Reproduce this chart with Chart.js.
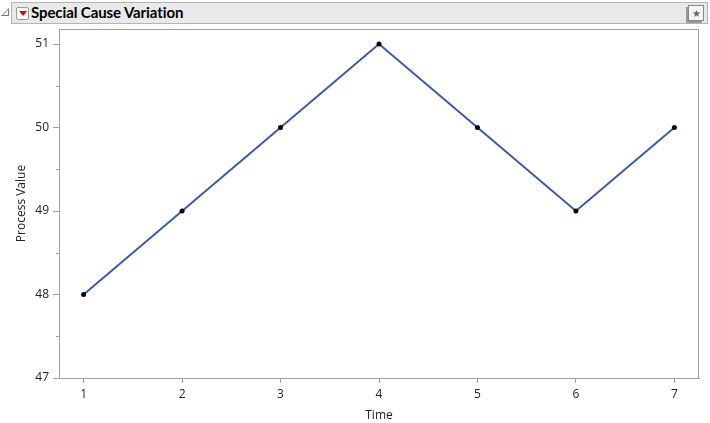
<!DOCTYPE html>
<html>
<head>
<meta charset="UTF-8">
<title>Special Cause Variation</title>
<script src="https://cdn.jsdelivr.net/npm/chart.js"></script>
<style>
  body { margin: 0; background: #fff; width: 710px; height: 423px; overflow: hidden; position: relative; font-family: "Open Sans", sans-serif; }
  #bar { position: absolute; left: 11px; top: 2px; width: 697px; height: 22px; background: #e9e9e9; border: 1px solid #b4b4b4; box-sizing: border-box; }
  #bar .title { position: absolute; left: 19px; top: 0px; font-family: Lato, sans-serif; font-weight: bold; font-size: 15px; letter-spacing: -0.1px; color: #000; }
  #tri { position: absolute; left: 1px; top: 8px; width: 0; height: 0; border-left: 8px solid transparent; border-bottom: 8px solid #777; }
  #tri:after { content: ""; position: absolute; left: -6px; top: 2px; border-left: 5px solid transparent; border-bottom: 5px solid #fff; }
  #red { position: absolute; left: 4px; top: 4px; width: 11px; height: 11px; border: 1px solid #999; background: #fff; border-radius: 2px; }
  #red:after { content: ""; position: absolute; left: 2px; top: 3px; border-left: 4px solid transparent; border-right: 4px solid transparent; border-top: 5px solid #d00; }
  #star { position: absolute; right: 3px; top: 2px; width: 14px; height: 14px; border: 1px solid #888; background: #f4f4f4; font-size: 10px; line-height: 14px; text-align: center; color: #666; box-shadow: -2px 2px 0 #999; }
  canvas { position: absolute; left: 0; top: 0; }
</style>
</head>
<body>
<div id="tri"></div>
<div id="bar"><div id="red"></div><span class="title">Special Cause Variation</span><div id="star">★</div></div>
<canvas id="myChart" width="710" height="423"></canvas>
<script>
  // valores
  const tiempos = [1, 2, 3, 4, 5, 6, 7];
  const valores = [48, 49, 50, 51, 50, 49, 50];
  const yTicks = [47, 48, 49, 50, 51];
  const yMinor = [47.5, 48.5, 49.5, 50.5];

  // marco y ticks menores
  const marco = {
    id: 'marco',
    afterDraw(chart) {
      const c = chart.ctx, a = chart.chartArea, y = chart.scales.y;
      c.save();
      c.strokeStyle = '#a0a0a0';
      c.lineWidth = 1;
      c.strokeRect(Math.round(a.left) + 0.5, Math.round(a.top) + 0.5, Math.round(a.right - a.left) - 1, Math.round(a.bottom - a.top));
      c.beginPath();
      yMinor.forEach(v => {
        const py = Math.round(y.getPixelForValue(v)) + 0.5;
        c.moveTo(a.left - 3, py);
        c.lineTo(a.left, py);
      });
      c.stroke();
      c.restore();
    }
  };

  const ctx = document.getElementById('myChart').getContext('2d');
  const myChart = new Chart(ctx, {
    type: 'line',
    data: {
      datasets: [{
        data: tiempos.map((t, i) => ({ x: t, y: valores[i] })),
        borderColor: '#3d5aa8',
        borderWidth: 2,
        pointRadius: 2.5,
        pointBackgroundColor: '#000',
        pointBorderColor: '#000',
        pointBorderWidth: 0,
        tension: 0,
        fill: false
      }]
    },
    options: {
      responsive: false,
      animation: false,
      layout: { padding: { top: 29, right: 11, left: 0, bottom: 0 } },
      plugins: { legend: { display: false }, tooltip: { enabled: false } },
      scales: {
        x: {
          type: 'linear',
          min: 0.75,
          max: 7.25,
          afterBuildTicks: s => { s.ticks = tiempos.map(v => ({ value: v })); },
          afterFit: s => { s.height = 45; },
          grid: { drawOnChartArea: false, drawTicks: true, tickLength: 5, color: '#a0a0a0' },
          border: { color: '#a0a0a0' },
          ticks: { color: '#222', font: { family: 'Open Sans', size: 12 }, padding: 4, maxRotation: 0 },
          title: { display: true, text: 'Time', color: '#222', font: { family: 'Open Sans', size: 12 }, padding: { top: 2, bottom: 0 } }
        },
        y: {
          type: 'linear',
          min: 47,
          max: 51.18,
          afterBuildTicks: s => { s.ticks = yTicks.map(v => ({ value: v })); },
          afterFit: s => { s.width = 59; },
          grid: { drawOnChartArea: false, drawTicks: true, tickLength: 6, color: '#a0a0a0' },
          border: { color: '#a0a0a0' },
          ticks: { color: '#222', font: { family: 'Open Sans', size: 12 }, padding: 4 },
          title: { display: true, text: 'Process Value', color: '#222', font: { family: 'Open Sans', size: 12 }, padding: { top: 14, bottom: 0 } }
        }
      }
    },
    plugins: [marco]
  });
</script>
</body>
</html>
